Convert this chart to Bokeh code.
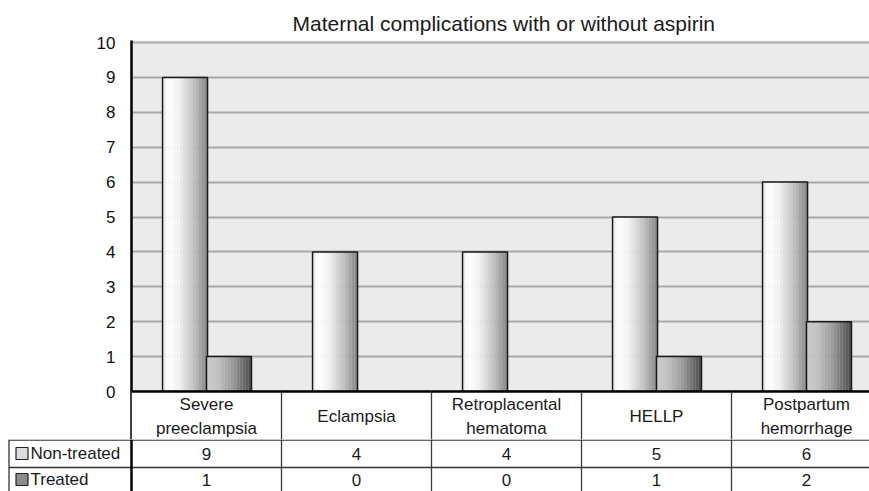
import numpy as np
from bokeh.plotting import figure
from bokeh.models import Range1d, FixedTicker, ColumnDataSource, Span, BoxAnnotation
from bokeh.transform import dodge
from bokeh.layouts import column
from bokeh.embed import file_html
from bokeh.resources import INLINE
from bokeh.core.properties import value

# ---------------- data ----------------
title_text = "Maternal complications with or without aspirin"
categories = ["Severe\npreeclampsia", "Eclampsia", "Retroplacental\nhematoma", "HELLP", "Postpartum\nhemorrhage"]
series_names = ["Non-treated", "Treated"]
non_treated = [9, 4, 4, 5, 6]
treated = [1, 0, 0, 1, 2]
y_ticks = list(range(0, 11))

# ---------------- layout constants ----------------
FONT = "Liberation Sans"
W = 869
LEFT = 131            # frame left (page x 131)
PX_PER_CAT = 150
PX_PER_UNIT = 34.9
ZERO_PX = 391         # page y of value 0
xmax = (W - LEFT) / PX_PER_CAT
xmin_tbl = -LEFT / PX_PER_CAT

H1 = 439
TOP = 40
frame_h = H1 - TOP
y_end = 10 + 2 / PX_PER_UNIT
y_start = y_end - frame_h / PX_PER_UNIT

def below_zero(page_y):
    return (ZERO_PX - page_y) / PX_PER_UNIT

idx = list(range(len(categories)))
centers = [i + 0.5 for i in idx]
src = ColumnDataSource(dict(idx=idx, nt=non_treated, tr=treated))

# ---------------- chart ----------------
p = figure(width=W, height=H1, x_range=Range1d(0, xmax), y_range=Range1d(y_start, y_end),
           output_backend="svg", toolbar_location=None, x_axis_location=None,
           min_border_left=LEFT, min_border_right=0, min_border_top=TOP, min_border_bottom=0)
p.frame_align = False
p.title.text = title_text
p.title.align = "left"
p.title.offset = 161
p.title.text_font = FONT
p.title.text_font_size = "21px"
p.title.text_font_style = "normal"
p.title.text_color = "#1a1a1a"
p.title.standoff = 11

p.background_fill_color = "#ebebeb"
p.border_fill_color = "white"
p.outline_line_color = None

p.yaxis.ticker = FixedTicker(ticks=y_ticks)
p.yaxis.major_tick_in = 0
p.yaxis.major_tick_out = 0
p.yaxis.minor_tick_in = 0
p.yaxis.minor_tick_out = 0
p.yaxis.axis_line_color = "black"
p.yaxis.axis_line_width = 2.5
p.yaxis.major_label_text_font = FONT
p.yaxis.major_label_text_font_size = "17px"
p.yaxis.major_label_text_color = "#111111"
p.yaxis.major_label_standoff = 16

p.xgrid.visible = False
p.ygrid.grid_line_color = "#a9a9a9"
p.ygrid.grid_line_width = 2

N = 15
BAR_W = 0.30
nt_stops = [(0.0, 0xe4), (0.12, 0xff), (0.35, 0xf4), (0.7, 0xc0), (1.0, 0x84)]
tr_stops = [(0.0, 0xc8), (0.25, 0xc2), (0.6, 0x98), (1.0, 0x4a)]

def gray(stops, t):
    xs = [s[0] for s in stops]
    vs = [s[1] for s in stops]
    g = int(round(np.interp(t, xs, vs)))
    return "#%02x%02x%02x" % (g, g, g)

for field, center, stops in [("nt", 0.357, nt_stops), ("tr", 0.650, tr_stops)]:
    for k in range(N):
        t = (k + 0.5) / N
        off = center - BAR_W / 2 + (k + 0.5) * BAR_W / N
        p.vbar(x=dodge("idx", off), top=field, bottom=0, width=BAR_W / N * 1.1,
               source=src, fill_color=gray(stops, t), line_color=None)
    p.vbar(x=dodge("idx", center), top=field, bottom=0, width=BAR_W, source=src,
           fill_color=None, line_color="#1a1a1a", line_width=1.5)

# category row of the data table (below zero)
p.add_layout(BoxAnnotation(top=0, fill_color="white", fill_alpha=1, line_color=None))
seps = list(range(1, len(categories)))
p.segment(x0=seps, y0=[0] * len(seps), x1=seps, y1=[y_start] * len(seps),
          line_color="#3a3a3a", line_width=1.3, level="overlay")
p.add_layout(Span(location=0, dimension="width", line_color="black", line_width=2.5))
p.text(x=centers, y=[below_zero(416)] * len(categories), text=categories, text_align="center",
       text_baseline="middle", text_font=value(FONT), text_font_size="17px",
       text_color="#1a1a1a", text_line_height=1.3, level="overlay")

# ---------------- data table: series rows ----------------
H2 = 491 - H1
tb = figure(width=W, height=H2, x_range=Range1d(xmin_tbl, xmax), y_range=Range1d(H2, 0),
            output_backend="svg", toolbar_location=None, title=None,
            x_axis_location=None, y_axis_location=None, min_border=0)
tb.frame_align = False
tb.min_border_left = 0
tb.min_border_right = 0
tb.min_border_top = 0
tb.min_border_bottom = 0
tb.outline_line_color = None
tb.grid.visible = False

row1, row2 = 0.6, 28
legend_left = (8.5 - LEFT) / PX_PER_CAT
tb.segment(x0=[legend_left, legend_left], y0=[row1, row2], x1=[xmax, xmax], y1=[row1, row2],
           line_color="#333333", line_width=1.3)
tb.segment(x0=seps, y0=[0] * len(seps), x1=seps, y1=[H2] * len(seps),
           line_color="#3a3a3a", line_width=1.3)
tb.segment(x0=[0], y0=[0], x1=[0], y1=[H2], line_color="black", line_width=2.5)
tb.segment(x0=[legend_left], y0=[0], x1=[legend_left], y1=[H2], line_color="#333333", line_width=1.3)

tb.text(x=centers, y=[14] * len(categories), text=[str(v) for v in non_treated], text_align="center",
        text_baseline="middle", text_font=value(FONT), text_font_size="17px", text_color="#1a1a1a")
tb.text(x=centers, y=[40] * len(categories), text=[str(v) for v in treated], text_align="center",
        text_baseline="middle", text_font=value(FONT), text_font_size="17px", text_color="#1a1a1a")

sw_x = (21.5 - LEFT) / PX_PER_CAT
tb.rect(x=[sw_x, sw_x], y=[14, 40], width=12, height=12, width_units="screen", height_units="screen",
        fill_color=["#dcdcdc", "#8c8c8c"], line_color="#222222", line_width=1.2)
tb.text(x=[(30 - LEFT) / PX_PER_CAT] * 2, y=[14, 40], text=series_names, text_align="left",
        text_baseline="middle", text_font=value(FONT), text_font_size="17px", text_color="#1a1a1a")

layout = column(p, tb, spacing=0)
open("out.html", "w").write(file_html(layout, INLINE))
